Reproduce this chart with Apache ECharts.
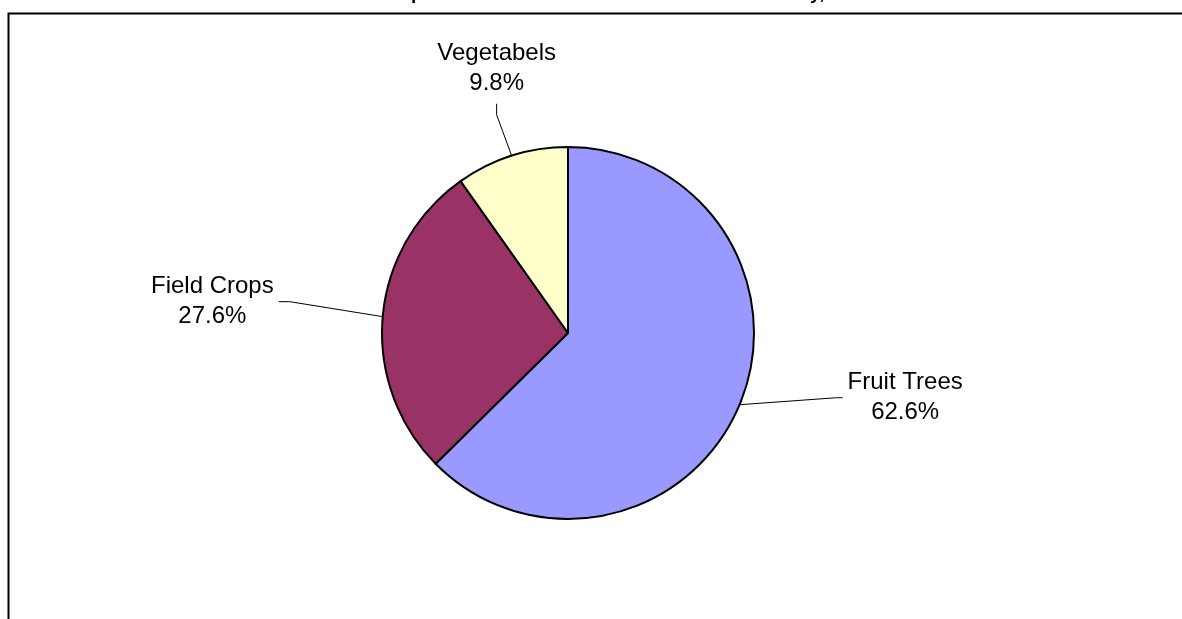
<!DOCTYPE html>
<html>
<head>
<meta charset="utf-8">
<script src="https://cdn.jsdelivr.net/npm/echarts@6/dist/echarts.min.js"></script>
<style>
  html, body { margin: 0; padding: 0; background: #fff; }
  #chart { width: 1182px; height: 619px; }
</style>
</head>
<body>
<div id="chart"></div>
<script>
// ---- data ----
var categories = ['Fruit Trees', 'Field Crops', 'Vegetabels'];
var shares = [62.6, 27.6, 9.8];
var sliceColors = ['#9999FF', '#993366', '#FFFFCC'];
var titleText = 'Land Use Composition of the Cultivated Area in the Country, 2005';

// ---- label leader styling (offsets from slice edge, in px) ----
var leaderEnd = [[103, -7], [-104, -15], [-15, -52]];
var leaderBend = [[-6, 0], [11, 0], [0, 11]];
var labelSide = ['right', 'left', 'top'];

var chart = echarts.init(document.getElementById('chart'), null, { renderer: 'canvas' });

var seriesData = categories.map(function (name, i) {
  return { name: name, value: shares[i], itemStyle: { color: sliceColors[i] } };
});

chart.setOption({
  backgroundColor: '#ffffff',
  animation: false,
  title: {
    text: titleText,
    left: 278,
    top: -16,
    padding: 0,
    textStyle: { fontFamily: 'Liberation Sans, Arial, sans-serif', fontWeight: 'bold', fontSize: 19, color: '#000' }
  },
  graphic: [{
    type: 'rect',
    silent: true,
    shape: { x: 8.5, y: 13.5, width: 1400, height: 900 },
    style: { fill: 'none', stroke: '#000', lineWidth: 2 },
    z: -1
  }],
  series: [{
    type: 'pie',
    center: [568, 333],
    radius: [0, 186],
    startAngle: 90,
    clockwise: true,
    avoidLabelOverlap: false,
    data: seriesData,
    itemStyle: { borderColor: '#000', borderWidth: 2 },
    emphasis: { disabled: true },
    label: {
      show: true,
      position: 'outside',
      fontFamily: 'Liberation Sans, Arial, sans-serif',
      fontSize: 24,
      lineHeight: 30,
      color: '#000',
      align: 'center',
      formatter: function (p) { return p.name + '\n' + p.value.toFixed(1) + '%'; }
    },
    labelLine: {
      show: true,
      length: 10,
      length2: 0,
      smooth: false,
      lineStyle: { color: '#000', width: 1 }
    },
    labelLayout: function (params) {
      var i = params.dataIndex;
      var pts = params.labelLinePoints;
      var e = pts[0];
      var end = [e[0] + leaderEnd[i][0], e[1] + leaderEnd[i][1]];
      var bend = [end[0] + leaderBend[i][0], end[1] + leaderBend[i][1]];
      var w = params.labelRect.width, h = params.labelRect.height;
      var x, y;
      if (labelSide[i] === 'right') { x = end[0] + 5 + w / 2; y = end[1]; }
      else if (labelSide[i] === 'left') { x = end[0] - 5 - w / 2; y = end[1]; }
      else { x = end[0]; y = end[1] - 5 - h / 2; }
      return {
        x: x, y: y, align: 'center', verticalAlign: 'middle',
        labelLinePoints: [[e[0], e[1]], bend, end]
      };
    }
  }]
});
</script>
</body>
</html>
